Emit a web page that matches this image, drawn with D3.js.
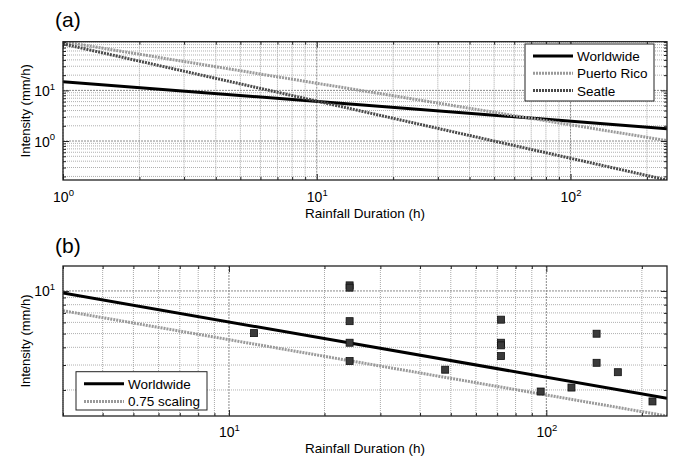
<!DOCTYPE html>
<html>
<head>
<meta charset="utf-8">
<script src="https://cdn.jsdelivr.net/npm/d3@7"></script>
<style>
body { margin: 0; background: #fff; }
svg { font-family: "Liberation Sans", Arial, Helvetica, sans-serif; }
</style>
</head>
<body>
<svg width="676" height="458"></svg>
<script>
//	panel (a): threshold lines, intensity read at both ends of the duration range
var durA = [1, 240];
var worldwideA = [14.8, 1.75];
var puertoRicoA = [91.5, 1.02];
var seattleA = [82.7, 0.17];

//	panel (b): worldwide threshold, 0.75 scaled version and the observed events
var durB = [3, 240];
var worldwideB = [9.66, 1.75];
var scaledB = [7.25, 1.31];
var eventDur = [12, 24, 24, 24, 24, 24, 48, 72, 72, 72, 72, 96, 120, 144, 144, 168, 216];
var eventInt = [5.04, 10.95, 10.55, 6.12, 4.31, 3.20, 2.78, 6.27, 4.31, 4.13, 3.47, 1.95, 2.08, 4.99, 3.11, 2.67, 1.66];

//	labelled ticks
var xLabA = [1, 10, 100], yLabA = [1, 10];
var xLabB = [10, 100], yLabB = [10];

var svg = d3.select("svg");

function isMajor(v) {
	var l = Math.log10(v);
	return Math.abs(l - Math.round(l)) < 1e-6;
}

//	"10" with a raised exponent
function powLabel(sel, v) {
	sel.append("tspan").text("10");
	sel.append("tspan")
		.attr("font-size", "9.5px")
		.attr("dy", "-0.65em")
		.text(Math.round(Math.log10(v)));
}

function drawPanel(opt) {
	var w = opt.width, h = opt.height;
	var g = svg.append("g").attr("transform", "translate(" + opt.left + "," + opt.top + ")");
	var x = d3.scaleLog().domain(opt.xDomain).range([0, w]);
	var y = d3.scaleLog().domain(opt.yDomain).range([h, 0]);
	var xt = x.ticks(), yt = y.ticks();

	g.append("clipPath").attr("id", opt.id + "clip")
		.append("rect").attr("width", w).attr("height", h);

	//	grid, minor and major
	var grid = g.append("g").attr("fill", "none");
	grid.selectAll(".gx").data(xt).enter().append("line")
		.attr("x1", function(d) { return x(d); })
		.attr("x2", function(d) { return x(d); })
		.attr("y1", 0).attr("y2", h)
		.attr("stroke", function(d) { return isMajor(d) ? "#8a8a8a" : "#a8a8a8"; })
		.attr("stroke-dasharray", function(d) { return isMajor(d) ? "2,1" : "1,1"; });
	grid.selectAll(".gy").data(yt).enter().append("line")
		.attr("y1", function(d) { return y(d); })
		.attr("y2", function(d) { return y(d); })
		.attr("x1", 0).attr("x2", w)
		.attr("stroke", function(d) { return isMajor(d) ? "#8a8a8a" : "#b0b0b0"; })
		.attr("stroke-dasharray", function(d) { return isMajor(d) ? "2,1" : "1,1"; });

	//	series
	var line = d3.line()
		.x(function(d) { return x(d[0]); })
		.y(function(d) { return y(d[1]); });
	var plot = g.append("g").attr("clip-path", "url(#" + opt.id + "clip)");
	opt.series.forEach(function(s) {
		plot.append("path")
			.datum(d3.zip(s.dur, s.val))
			.attr("d", line)
			.attr("fill", "none")
			.attr("stroke", s.color)
			.attr("stroke-width", 3)
			.attr("stroke-dasharray", s.dash);
	});
	if (opt.points) {
		plot.selectAll(".pt").data(d3.zip(opt.points.dur, opt.points.val)).enter().append("rect")
			.attr("x", function(d) { return x(d[0]) - 3.5; })
			.attr("y", function(d) { return y(d[1]) - 3.5; })
			.attr("width", 7).attr("height", 7)
			.attr("fill", "#3a3a3a")
			.attr("stroke", "#111")
			.attr("stroke-width", 0.8);
	}

	//	inside ticks on all four sides
	function ticks(axis, tv, transform, small) {
		var a = g.append("g").attr("transform", transform)
			.call(axis.tickValues(tv).tickSizeInner(-small).tickSizeOuter(0).tickFormat(""));
		a.select(".domain").remove();
		a.selectAll(".tick line").attr("stroke", "#222");
		return a;
	}
	var bx = ticks(d3.axisBottom(x), xt, "translate(0," + h + ")", 3);
	bx.selectAll(".tick").filter(isMajor).select("line").attr("y2", -6);
	var tx = ticks(d3.axisTop(x), xt, "translate(0,0)", 3);
	tx.selectAll(".tick").filter(isMajor).select("line").attr("y2", 6);
	var ly = ticks(d3.axisLeft(y), yt, "translate(0,0)", 3);
	ly.selectAll(".tick").filter(isMajor).select("line").attr("x2", 6);
	var ry = ticks(d3.axisRight(y), yt, "translate(" + w + ",0)", 3);
	ry.selectAll(".tick").filter(isMajor).select("line").attr("x2", -6);

	//	tick labels
	bx.selectAll(".tick text").remove();
	bx.selectAll(".tick").filter(function(d) { return opt.xLab.indexOf(d) >= 0; })
		.append("text")
			.attr("fill", "#000")
			.attr("font-size", "14px")
			.attr("text-anchor", "middle")
			.attr("y", opt.xLabDy)
			.each(function(d) { powLabel(d3.select(this), d); });
	ly.selectAll(".tick text").remove();
	ly.selectAll(".tick").filter(function(d) { return opt.yLab.indexOf(d) >= 0; })
		.append("text")
			.attr("fill", "#000")
			.attr("font-size", "14px")
			.attr("text-anchor", "end")
			.attr("x", -8)
			.attr("y", 5)
			.each(function(d) { powLabel(d3.select(this), d); });

	//	frame
	g.append("rect").attr("width", w).attr("height", h)
		.attr("fill", "none").attr("stroke", "#222").attr("stroke-width", 1.3);

	//	axis titles and panel letter
	g.append("text")
		.attr("x", w / 2).attr("y", h + opt.xTitleDy)
		.attr("text-anchor", "middle").attr("font-size", "13.5px")
		.text("Rainfall Duration (h)");
	g.append("text")
		.attr("transform", "translate(-33," + (h / 2) + ") rotate(-90)")
		.attr("text-anchor", "middle").attr("font-size", "13px")
		.text("Intensity (mm/h)");
	g.append("text")
		.attr("x", -8).attr("y", opt.letterDy)
		.attr("font-size", "21px")
		.text(opt.letter);

	//	legend
	var lg = g.append("g").attr("transform", "translate(" + opt.legend.x + "," + opt.legend.y + ")");
	lg.append("rect")
		.attr("width", opt.legend.w).attr("height", opt.legend.h)
		.attr("fill", "#fff").attr("stroke", "#222").attr("stroke-width", 1);
	opt.series.forEach(function(s, i) {
		var ry0 = 12 + i * opt.legend.step;
		lg.append("line")
			.attr("x1", 8).attr("x2", 48)
			.attr("y1", ry0).attr("y2", ry0)
			.attr("stroke", s.color).attr("stroke-width", 3)
			.attr("stroke-dasharray", s.dash);
		lg.append("text")
			.attr("x", 52).attr("y", ry0 + 5)
			.attr("font-size", "13.5px")
			.text(s.name);
	});
}

drawPanel({
	id: "a", letter: "(a)",
	left: 63, top: 41.7, width: 604, height: 138.3,
	xDomain: [1, 240], yDomain: [0.17, 91.5],
	xLab: xLabA, yLab: yLabA, xLabDy: 22, xTitleDy: 37.8, letterDy: -15,
	series: [
		{name: "Worldwide", dur: durA, val: worldwideA, color: "#000", dash: null},
		{name: "Puerto Rico", dur: durA, val: puertoRicoA, color: "#9a9a9a", dash: "2,1"},
		{name: "Seatle", dur: durA, val: seattleA, color: "#4a4a4a", dash: "2,1"}
	],
	legend: {x: 462, y: 2.3, w: 129, h: 57, step: 17.3}
});

drawPanel({
	id: "b", letter: "(b)",
	left: 63, top: 266, width: 604, height: 150,
	xDomain: [3, 240], yDomain: [1.31, 15],
	xLab: xLabB, yLab: yLabB, xLabDy: 21, xTitleDy: 37, letterDy: -13,
	series: [
		{name: "Worldwide", dur: durB, val: worldwideB, color: "#000", dash: null},
		{name: "0.75 scaling", dur: durB, val: scaledB, color: "#9a9a9a", dash: "2,1"}
	],
	points: {dur: eventDur, val: eventInt},
	legend: {x: 13, y: 105.7, w: 131, h: 38.3, step: 17.7}
});
</script>
</body>
</html>
